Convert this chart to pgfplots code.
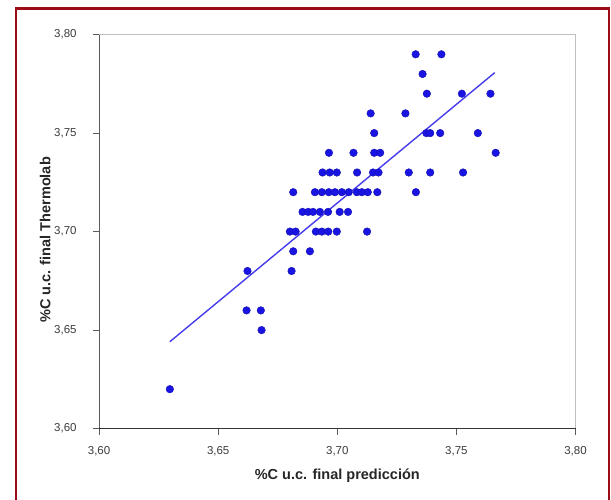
\documentclass[border=0pt]{standalone}
\usepackage{pgfplots}
\pgfplotsset{compat=1.18}
\usepackage{fontspec}
\setmainfont{Liberation Sans}
\definecolor{framered}{RGB}{155,12,22}
\definecolor{ptblue}{RGB}{25,20,225}
\definecolor{lnblue}{RGB}{70,60,235}
\definecolor{spine}{RGB}{90,90,90}
\definecolor{ticktext}{RGB}{60,60,60}
\pgfplotstableread{
x y
3.6297 3.62
3.6619 3.66
3.6679 3.66
3.6682 3.65
3.6623 3.68
3.6808 3.68
3.6815 3.69
3.6885 3.69
3.6801 3.70
3.6825 3.70
3.6910 3.70
3.6935 3.70
3.6962 3.70
3.6998 3.70
3.7125 3.70
3.6854 3.71
3.6878 3.71
3.6898 3.71
3.6927 3.71
3.6961 3.71
3.7010 3.71
3.7045 3.71
3.6815 3.72
3.6906 3.72
3.6935 3.72
3.6964 3.72
3.6990 3.72
3.7019 3.72
3.7048 3.72
3.7082 3.72
3.7103 3.72
3.7128 3.72
3.7168 3.72
3.7330 3.72
3.6938 3.73
3.6968 3.73
3.6998 3.73
3.7083 3.73
3.7150 3.73
3.7173 3.73
3.7300 3.73
3.7390 3.73
3.7528 3.73
3.6965 3.74
3.7068 3.74
3.7155 3.74
3.7180 3.74
3.7665 3.74
3.7155 3.75
3.7374 3.75
3.7390 3.75
3.7432 3.75
3.7590 3.75
3.7140 3.76
3.7286 3.76
3.7376 3.77
3.7523 3.77
3.7643 3.77
3.7358 3.78
3.7329 3.79
3.7437 3.79
}\pts
\pgfplotstableread{
x y
3.6297 3.6441
3.7661 3.7807
}\trend
\begin{document}
\begin{tikzpicture}
\useasboundingbox (0pt,0pt) rectangle (611pt,500pt);
\fill[white] (0pt,0pt) rectangle (611pt,500pt);
\begin{scope}
\clip (0pt,0pt) rectangle (611pt,500pt);
\draw[framered, line width=2.2pt] (15.6pt,491.4pt) rectangle (608.7pt,-20pt);
\end{scope}
\begin{axis}[
  at={(99.1pt,71.4pt)}, anchor=south west,
  scale only axis, width=476.4pt, height=394pt,
  xmin=3.60, xmax=3.80, ymin=3.60, ymax=3.80,
  xtick={3.60,3.65,3.70,3.75,3.80},
  ytick={3.60,3.65,3.70,3.75,3.80},
  xticklabels={{3,60},{3,65},{3,70},{3,75},{3,80}},
  yticklabels={{3,60},{3,65},{3,70},{3,75},{3,80}},
  tick align=outside, major tick length=6pt,
  tick style={spine, line width=0.8pt},
  xtick pos=bottom, ytick pos=left,
  axis line style={draw=none},
  ticklabel style={font=\fontsize{11.5}{13}\selectfont, text=ticktext},
  xticklabel style={yshift=-8pt},
  yticklabel style={xshift=-13pt},
  xlabel={\textbf{\%C u.c. final predicción}},
  ylabel={\textbf{\%C u.c. final Thermolab}},
  label style={font=\fontsize{14.5}{16}\selectfont, text=black!85},
  xlabel style={at={(rel axis cs:0.5,-0.1203)}, anchor=center},
  ylabel style={at={(rel axis cs:-0.1134,0.4787)}, anchor=center, rotate=0},
  clip=false,
]
\draw[black!25, line width=1pt] (rel axis cs:0,1) -- (rel axis cs:1,1) -- (rel axis cs:1,0);
\draw[spine, line width=1pt] (rel axis cs:0,0) -- (rel axis cs:0,1);
\draw[black!80, line width=1.4pt] (rel axis cs:0,0) -- (rel axis cs:1,0);
\addplot[only marks, mark=*, mark size=3.8pt, mark options={fill=ptblue, draw=ptblue!80!black}] table[x=x,y=y] {\pts};
\addplot[lnblue, line width=1.4pt, no marks] table[x=x,y=y] {\trend};
\end{axis}
\end{tikzpicture}
\end{document}
